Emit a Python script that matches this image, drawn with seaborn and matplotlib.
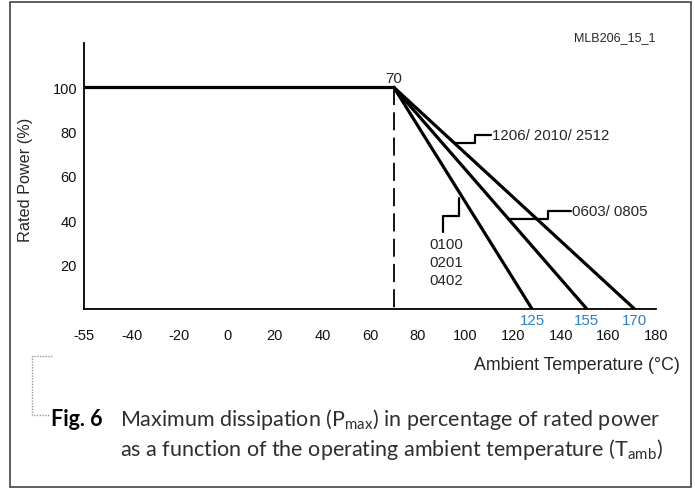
import numpy as np
import pandas as pd
import seaborn as sns
import matplotlib.pyplot as plt
from matplotlib.lines import Line2D
from matplotlib.patches import Rectangle

# derating curve values
flat_temp = [-55, 70]
flat_power = [100, 100]
knee_temp = 70
end_temps = [128, 151, 171]          # where the drawn lines hit 0 %
end_labels = ["125", "155", "170"]
groups = ["0100/0201/0402", "0603/0805", "1206/2010/2512"]

x_ticks = [-55, -40, -20, 0, 20, 40, 60, 80, 100, 120, 140, 160, 180]
y_ticks = [20, 40, 60, 80, 100]


def axis_pos(t):
    # the drawing squeezes -55..-40 into one 20 degree slot
    t = np.asarray(t, dtype=float)
    return np.where(t < -40, -40 + (t + 40) * 20.0 / 15.0, t)


rows = []
for g, e in zip(groups, end_temps):
    rows.append({"group": g, "temp": knee_temp, "power": 100})
    rows.append({"group": g, "temp": e, "power": 0})
df = pd.DataFrame(rows)
df["x"] = axis_pos(df["temp"])

sns.set_theme(style="white")
plt.rcParams["font.family"] = ["Liberation Sans", "DejaVu Sans"]
plt.rcParams["mathtext.fontset"] = "custom"
plt.rcParams["mathtext.rm"] = "Lato"

fig = plt.figure(figsize=(6.95, 4.89), dpi=100)
ax = fig.add_axes([84 / 695, 1 - 310 / 489, 572 / 695, 266 / 489])

ax.plot(axis_pos(flat_temp), flat_power, color="black", lw=2.3, solid_capstyle="butt")
sns.lineplot(data=df, x="x", y="power", units="group", estimator=None,
             color="black", lw=2.3, ax=ax, legend=False)
ax.plot([knee_temp, knee_temp], [100, 0], color="black", lw=1.3,
        dashes=(10, 4))

ax.set_xlim(-60, 180)
ax.set_ylim(0, 120)
ax.set_xticks(axis_pos(x_ticks))
ax.set_xticklabels([str(t) for t in x_ticks])
ax.set_yticks(y_ticks)
ax.set_yticklabels([str(t) for t in y_ticks])
ax.tick_params(axis="x", direction="in", length=8, width=1.2, color="#a0a0a0",
               pad=14, labelsize=10.5, labelcolor="#111111")
ax.tick_params(axis="y", direction="in", length=2.5, width=1, color="#a0a0a0",
               pad=5, labelsize=10.5, labelcolor="#111111")
for s in ["top", "right"]:
    ax.spines[s].set_visible(False)
for s in ["left", "bottom"]:
    ax.spines[s].set_color("black")
    ax.spines[s].set_linewidth(1.3)

ax.set_ylabel("Rated Power (%)", fontsize=11.7)
ax.yaxis.set_label_coords(-0.09, 0.489)
ax.set_xlabel("Ambient Temperature (\u00b0C)", fontsize=12.8, ha="right", va="center")
ax.xaxis.set_label_coords(1.042, -0.207)

# labels on the curves
ax.text(knee_temp, 104, "70", ha="center", va="center", fontsize=10.8)
for e, lab in zip(end_temps, end_labels):
    ax.text(e, -5, lab, ha="center", va="center", fontsize=10.8, color="#2a7fc9")

lead = dict(color="black", lw=1.6)
ax.plot([95.6, 104.0, 104.0, 110.7], [74.9, 74.9, 78.6, 78.6], **lead)
ax.text(111, 78.6, "1206/ 2010/ 2512", ha="left", va="center", fontsize=10.8)
ax.plot([117.9, 134.6, 134.6, 144.5], [40.5, 40.5, 44.2, 44.2], **lead)
ax.text(144.8, 44.2, "0603/ 0805", ha="left", va="center", fontsize=10.8)
ax.plot([97.4, 97.4, 90.7, 90.7], [50.0, 42.1, 42.1, 34.6], **lead)
ax.text(85.1, 21.1, "0100\n0201\n0402", ha="left", va="center", fontsize=10.8,
        linespacing=1.35)

fig.text(615 / 695, 1 - 38 / 489, "MLB206_15_1", ha="center", va="center", fontsize=9)

# caption
cap = dict(fontsize=15.5, family="Lato", va="center")
fig.text(51 / 695, 1 - 420 / 489, "Fig. 6", fontweight="bold", ha="left",
         color="black", **cap)
fig.text(120 / 695, 1 - 420 / 489,
         "Maximum dissipation (P$_{\\rm max}$) in percentage of rated power",
         ha="left", color="#2e2e2e", **cap)
fig.text(120 / 695, 1 - 450 / 489,
         "as a function of the operating ambient temperature (T$_{\\rm amb}$)",
         ha="left", color="#2e2e2e", **cap)

# dotted bracket and outer frame
px = lambda x, y: (x / 695, 1 - y / 489)
bx, by = zip(px(52, 357), px(32, 357), px(32, 416), px(50, 416))
fig.add_artist(Line2D(bx, by, color="#999999", lw=1, ls=(0, (1, 1))))
fig.add_artist(Rectangle(px(10, 488), 681 / 695, 485 / 489, fill=False,
                         edgecolor="#444444", lw=1.2))

fig.savefig("out.png", dpi=100)
